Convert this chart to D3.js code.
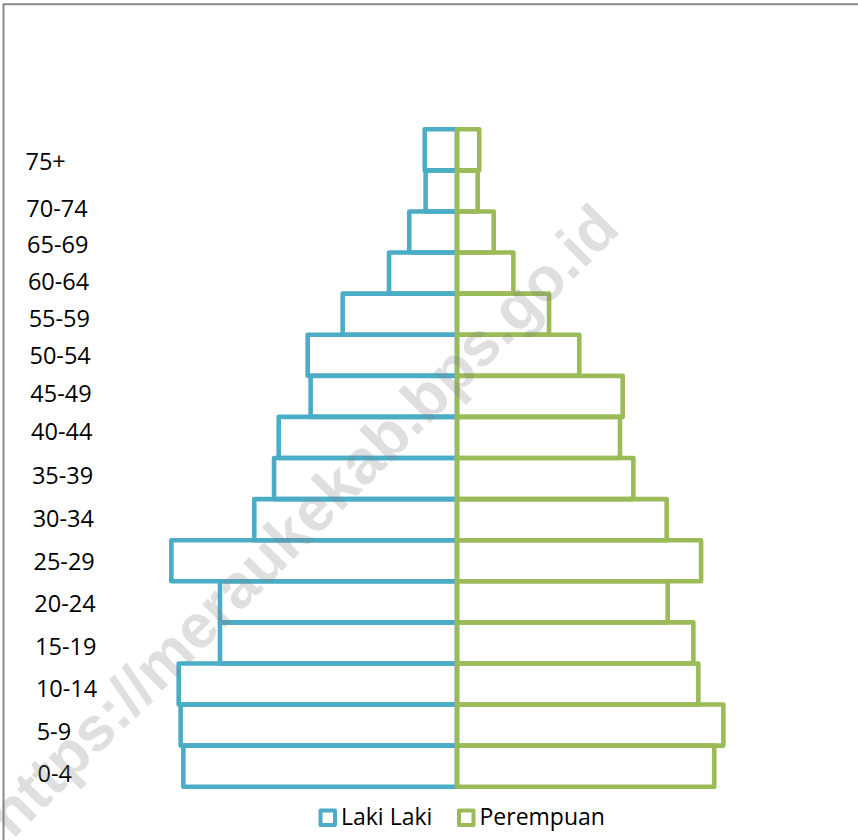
<!DOCTYPE html>
<html>
<head>
<meta charset="utf-8">
<script src="https://cdn.jsdelivr.net/npm/d3@7/dist/d3.min.js"></script>
<style>
  html, body { margin: 0; padding: 0; background: #fff; }
  svg { display: block; }
</style>
</head>
<body>
<svg id="chart" width="858" height="840"></svg>
<script>
// ---- data (top = oldest) ----
const ageGroups = ["75+", "70-74", "65-69", "60-64", "55-59", "50-54", "45-49", "40-44",
                   "35-39", "30-34", "25-29", "20-24", "15-19", "10-14", "5-9", "0-4"];
const maleValues = [1420, 1380, 2100, 2990, 5030, 6570, 6440, 7845,
                    8050, 8920, 12570, 10430, 10430, 12245, 12160, 12040];
const femaleValues = [980, 910, 1615, 2480, 4050, 5380, 7290, 7170,
                      7760, 9225, 10740, 9270, 10400, 10620, 11720, 11320];
const seriesNames = ["Laki Laki", "Perempuan"];
const seriesColors = ["#4BACC6", "#9BBB59"];
const watermarkText = "https://meraukekab.bps.go.id";

const svg = d3.select("#chart");
const W = 858, H = 840;

// frame
svg.append("rect")
  .attr("x", 3.5).attr("y", 4.2)
  .attr("width", W + 20).attr("height", H + 20)
  .attr("fill", "none").attr("stroke", "#898989").attr("stroke-width", 2);

// scales
const centerX = 457;
const x = d3.scaleLinear().domain([-14000, 14000]).range([centerX - 318.18, centerX + 318.18]);
const y = d3.scaleBand().domain(ageGroups).range([129.3, 786.7]).padding(0);

const data = ageGroups.map((a, i) => ({ age: a, male: maleValues[i], female: femaleValues[i], i }));

const barStroke = 4.6;

// male bars
svg.append("g").selectAll("rect").data(data).join("rect")
  .attr("x", d => x(-d.male))
  .attr("y", d => y(d.age))
  .attr("width", d => x(0) - x(-d.male))
  .attr("height", y.bandwidth())
  .attr("fill", "none")
  .attr("stroke", seriesColors[0])
  .attr("stroke-width", barStroke)
  .attr("stroke-linejoin", "round");

// female bars
svg.append("g").selectAll("rect").data(data).join("rect")
  .attr("x", x(0))
  .attr("y", d => y(d.age))
  .attr("width", d => x(d.female) - x(0))
  .attr("height", y.bandwidth())
  .attr("fill", "none")
  .attr("stroke", seriesColors[1])
  .attr("stroke-width", barStroke)
  .attr("stroke-linejoin", "round");

// category labels (as in the reference, slightly drifting from the bars)
const labelY = d3.scaleLinear().domain([0, 1, 4, 7, 8, 15]).range([162, 208.3, 318.3, 431.3, 476, 774]);
const labelX = d3.scaleLinear().domain([0, 15]).range([25.5, 37.5]);
svg.append("g").selectAll("text").data(data).join("text")
  .attr("x", d => labelX(d.i))
  .attr("y", d => labelY(d.i))
  .attr("dy", "0.36em")
  .attr("font-family", "'Open Sans', sans-serif")
  .attr("font-size", 23.5)
  .attr("fill", "#000")
  .text(d => d.age);

// legend
const legend = svg.append("g");
const legendItems = [
  { name: seriesNames[0], color: seriesColors[0], sx: 320.5, tx: 341 },
  { name: seriesNames[1], color: seriesColors[1], sx: 459, tx: 479.5 }
];
legendItems.forEach(it => {
  legend.append("rect")
    .attr("x", it.sx).attr("y", 810.5)
    .attr("width", 14.5).attr("height", 14.5)
    .attr("fill", "#fff").attr("stroke", it.color).attr("stroke-width", 4)
    .attr("stroke-linejoin", "round");
  legend.append("text")
    .attr("x", it.tx).attr("y", 817)
    .attr("dy", "0.36em")
    .attr("font-family", "'Open Sans', sans-serif")
    .attr("font-size", 23)
    .attr("fill", "#000")
    .text(it.name);
});

// watermark
svg.append("text")
  .attr("transform", "translate(302,520) rotate(-45)")
  .attr("text-anchor", "middle")
  .attr("dy", "0.35em")
  .attr("font-family", "'Liberation Sans', Arial, sans-serif")
  .attr("font-weight", "bold")
  .attr("font-size", 62)
  .attr("fill", "#808080")
  .attr("fill-opacity", 0.25)
  .text(watermarkText);
</script>
</body>
</html>
